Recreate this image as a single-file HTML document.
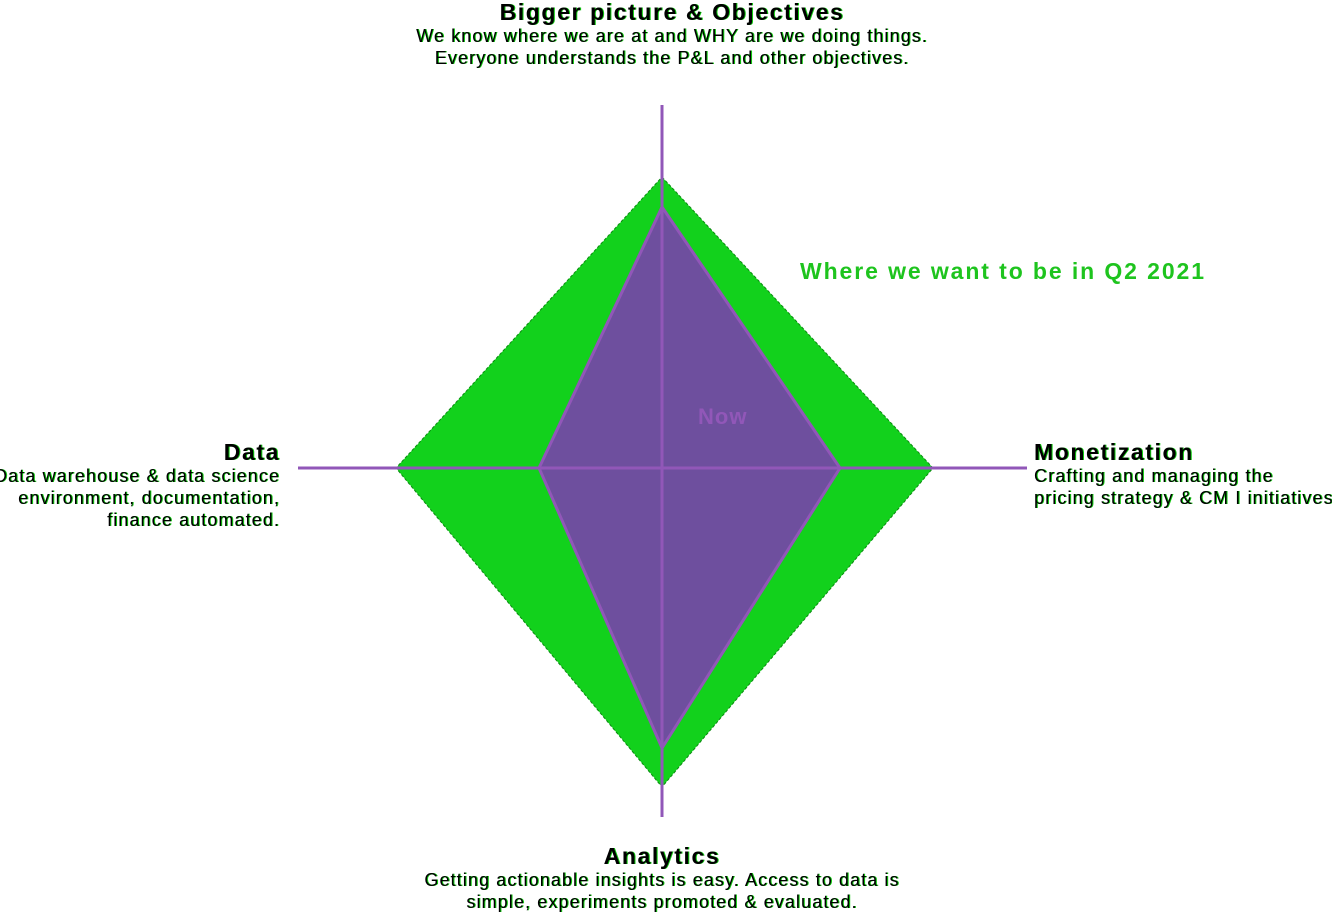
<!DOCTYPE html>
<html><head><meta charset="utf-8"><style>
body{margin:0;width:1332px;height:913px;background:#fff;position:relative;overflow:hidden;font-family:"Liberation Sans",sans-serif;color:#000}
.t{position:absolute;font-size:18px;letter-spacing:1.1px;line-height:22px;white-space:nowrap;text-shadow:1px 0 0 #1c1}
.h{font-weight:bold;font-size:23px;letter-spacing:1.6px;line-height:24px}
</style></head><body>
<svg width="1332" height="913" style="position:absolute;left:0;top:0">
<polygon points="662,177 933,468 662,787 396,468" fill="#12d11c" stroke="#0a8a10" stroke-width="1" stroke-dasharray="3,2"/>
<polygon points="662,207 840,468 662,748 539,468" fill="#6e4f9e" stroke="#9157b8" stroke-width="3"/>
<line x1="662" y1="105" x2="662" y2="817" stroke="#9157b8" stroke-width="3"/>
<line x1="298" y1="468" x2="1027" y2="468" stroke="#9157b8" stroke-width="3"/>
<text x="698" y="424" font-family="Liberation Sans" font-weight="bold" font-size="22" letter-spacing="1" fill="#9157b8">Now</text>
<text x="800" y="279" font-family="Liberation Sans" font-weight="bold" font-size="23" letter-spacing="1.9" fill="#1ec41e">Where we want to be in Q2 2021</text>
</svg>
<div class="t" style="left:0;width:1332px;top:0;text-align:center;padding-left:12px;box-sizing:border-box"><span class="h">Bigger picture &amp; Objectives</span><br>We know where we are at and WHY are we doing things.<br>Everyone understands the P&amp;L and other objectives.</div>
<div class="t" style="right:1052px;top:440px;text-align:right"><span class="h">Data</span><br>Data warehouse &amp; data science<br>environment, documentation,<br>finance automated.</div>
<div class="t" style="left:1034px;top:440px"><span class="h">Monetization</span><br>Crafting and managing the<br>pricing strategy &amp; CM I initiatives.</div>
<div class="t" style="left:0;width:1324px;top:844px;text-align:center"><span class="h">Analytics</span><br>Getting actionable insights is easy. Access to data is<br>simple, experiments promoted &amp; evaluated.</div>
</body></html>
